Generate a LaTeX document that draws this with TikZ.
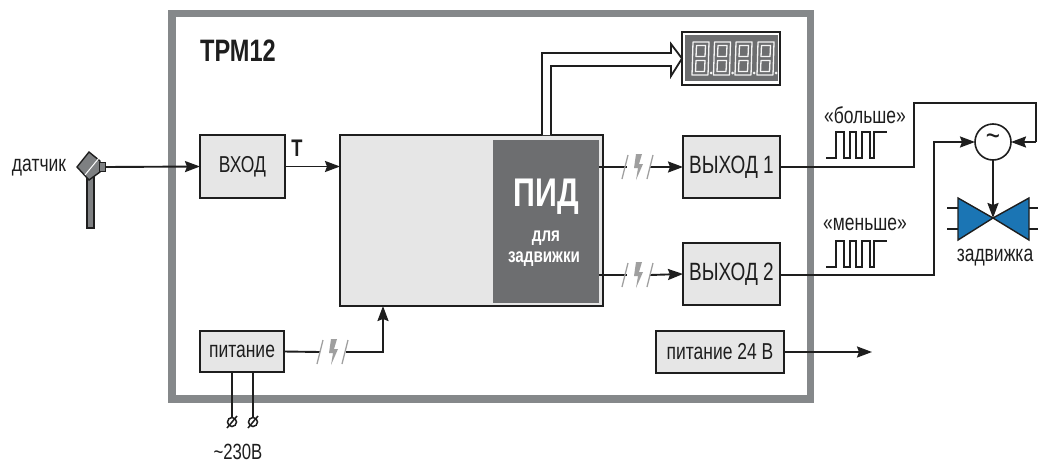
\documentclass[tikz,border=0pt]{standalone}
\usepackage{fontspec}
\setmainfont[FakeStretch=0.76]{Liberation Sans}
\usetikzlibrary{arrows.meta,calc}
\definecolor{boxfill}{HTML}{E6E6E6}
\definecolor{framegray}{HTML}{85888A}
\definecolor{darkgray}{HTML}{6D6E70}
\definecolor{sensorgray}{HTML}{7E8082}
\definecolor{valveblue}{HTML}{1B75B4}
\definecolor{inkblack}{HTML}{1E1E1E}
\tikzset{
  x=1pt,y=-1pt,
  every node/.style={font=\fontsize{23}{25}\selectfont,text=inkblack,inner sep=0pt,outer sep=0pt},
  blockbox/.style={draw=inkblack,fill=boxfill,line width=1.8pt,anchor=north west},
  conn/.style={draw=inkblack,line width=1.9pt},
  arrowconn/.style={conn,-{Stealth[length=15pt,width=11pt,inset=2pt]}},
  breakline/.style={draw=gray!75,line width=1.3pt},
  pulse/.style={draw=inkblack,line width=1.5pt},
  digitseg/.style={draw=white!92!gray,line width=1.3pt,line join=round},
  breakmark/.pic={
    \draw[breakline] (-17,12) -- (-11,-12);
    \draw[breakline] (8,12) -- (14,-12);
    \fill[gray!75] (-3,-13) -- (3,-13) -- (0,-3) -- (4,-3) -- (-3,13) -- (-1,1) -- (-5,1) -- cycle;
  },
  pulsetrain/.pic={
    \draw[pulse] (826,26) -- (836,26) -- (836,0) -- (844,0) -- (844,26) -- (850,26) -- (850,0) -- (856,0) -- (856,26) -- (862,26) -- (862,0) -- (870,0) -- (870,26) -- (874,26) -- (874,0) -- (887,0);
  },
  sevenseg/.pic={
    \draw[digitseg] (1,0) -- (17,0) -- (16,33) -- (0,33) -- cycle;
    \draw[digitseg] (4.5,3.5) -- (13.5,3.5) -- (13,14.5) -- (4,14.5) -- cycle;
    \draw[digitseg] (4,18.5) -- (13,18.5) -- (12.5,29.5) -- (3.5,29.5) -- cycle;
    \fill[white!92!gray] (19,31) circle (1.5);
  }
}
\begin{document}
\begin{tikzpicture}
\useasboundingbox (0,0) rectangle (1038,463);
\fill[white] (0,0) rectangle (1038,463);
% frame
\draw[framegray,line width=7.5pt] (172,13.5) rectangle (810.5,399);
\node[font=\fontsize{31}{32}\selectfont\bfseries] (title) at (238,51) {ТРМ12};
% blocks
\node[blockbox,minimum width=85pt,minimum height=63pt] (vhod) at (200,135) {ВХОД};
\node[blockbox,minimum width=263pt,minimum height=171pt] (main) at (340,135) {};
\node[draw=none,fill=darkgray,anchor=north west,minimum width=106pt,minimum height=163pt] (pid) at (493,140) {};
\node[text=white,font=\fontsize{40}{42}\selectfont\bfseries] (pidt) at (546,197) {ПИД};
\node[text=white,font=\fontsize{20}{22}\selectfont\bfseries] (pidb) at (546,238) {для};
\node[text=white,font=\fontsize{20}{22}\selectfont\bfseries] (pidc) at (544,259) {задвижки};
\node[blockbox,minimum width=97pt,minimum height=62pt,font=\fontsize{25}{26}\selectfont] (out1) at (683,136) {ВЫХОД 1};
\node[blockbox,minimum width=97pt,minimum height=62pt,font=\fontsize{25}{26}\selectfont] (out2) at (683,243) {ВЫХОД 2};
\node[blockbox,minimum width=84pt,minimum height=41pt] (pow) at (200,331) {питание};
\node[blockbox,minimum width=128pt,minimum height=42pt] (pow24) at (656,331) {питание 24 В};
% display
\node[draw=inkblack,fill=white,line width=1.8pt,anchor=north west,minimum width=98pt,minimum height=53pt] (disp) at (682,32) {};
\node[fill=darkgray,anchor=north west,minimum width=93pt,minimum height=46pt] (dispin) at (684.5,35) {};
\pic at (692,42) {sevenseg};
\pic at (713.5,42) {sevenseg};
\pic at (735,42) {sevenseg};
\pic at (757,42) {sevenseg};
% double arrow
\draw[inkblack,line width=1.8pt,line join=miter,fill=white] (542,135) -- (542,53) -- (671,53) -- (671,44) -- (disp.west) -- (671,76) -- (671,66) -- (551,66) -- (551,135);
% sensor
\fill[sensorgray,draw=inkblack,line width=1.4pt] (87,176) rectangle (94,228);
\draw[fill=sensorgray,draw=inkblack,line width=1.4pt] (77,167) -- (89,152) -- (100,161) -- (100,172) -- (89,180) -- cycle;
\draw[white,line width=1pt] (85,175) -- (99,158);
\node[draw=inkblack,fill=sensorgray,line width=1.4pt,minimum width=6pt,minimum height=9pt] (probe) at (102.5,167) {};
\node (dat) at (39,168) {датчик};
\draw[arrowconn] (probe.east) -- (vhod.west);
\draw[arrowconn] (vhod.east) -- (main.west |- vhod.east);
\node[font=\fontsize{24}{26}\selectfont\bfseries] (tlabel) at (297,148) {Т};
% outputs
\coordinate (m1) at (main.east |- out1.west);
\coordinate (m2) at (main.east |- out2.west);
\coordinate (b1a) at (627,167);
\coordinate (b1b) at (650,167);
\coordinate (b2a) at (627,275);
\coordinate (b2b) at (650,275);
\draw[conn] (599,167) -- (b1a);
\draw[arrowconn] (b1b) -- (out1.west);
\pic at (639,167) {breakmark};
\draw[conn] (599,275) -- (b2a);
\draw[arrowconn] (b2b) -- (out2.west);
\pic at (639,275) {breakmark};
% power
\coordinate (pa) at (320,352);
\coordinate (pb) at (346,352);
\draw[conn] (pow.east) -- (pa);
\pic at (334,352) {breakmark};
\draw[arrowconn] (pb) -- (383,352) -- (383,306);
\draw[arrowconn] (pow24.east) -- (872,352);
% terminals
\node[draw=inkblack,circle,line width=1.5pt,minimum size=9pt] (t1) at (232,422) {};
\node[draw=inkblack,circle,line width=1.5pt,minimum size=9pt] (t2) at (253,422) {};
\draw[inkblack,line width=1.5pt] (227,428) -- (237,416) (248,428) -- (258,416);
\draw[conn] (232,372) -- (t1.north);
\draw[conn] (253,372) -- (t2.north);
\node[font=\fontsize{22}{24}\selectfont] (v230) at (238,452) {\textasciitilde 230В};
% right part
\node[draw=inkblack,fill=white,circle,line width=1.6pt,minimum size=36pt,font=\fontsize{32}{32}\selectfont] (mot) at (993,142) {\raisebox{3pt}{\textasciitilde}};
\coordinate (vc) at (993,218);
\draw[conn] (out1.east) -- (914,167) -- (914,103) -- (1036,103) -- (1036,142);
\draw[arrowconn] (1036,142) -- (mot.east);
\draw[arrowconn] (out2.east |- 0,275) -- (934,275) -- (934,142) -- (mot.west);
\draw[inkblack,line width=1.3pt] (947,208) -- (958,208) (947,229) -- (958,229) (1029,208) -- (1038,208) (1029,229) -- (1038,229);
\draw[fill=valveblue,draw=inkblack,line width=1.4pt] (958,198) -- (vc) -- (958,240) -- cycle;
\draw[fill=valveblue,draw=inkblack,line width=1.4pt] (1029,198) -- (vc) -- (1029,240) -- cycle;
\draw[arrowconn] (mot.south) -- (vc);
\node (zad) at (995,258) {задвижка};
\node (bol) at (865,115) {«больше»};
\node (men) at (865,224) {«меньше»};
\pic at (0,132) {pulsetrain};
\pic at (0,241) {pulsetrain};
\end{tikzpicture}
\end{document}
